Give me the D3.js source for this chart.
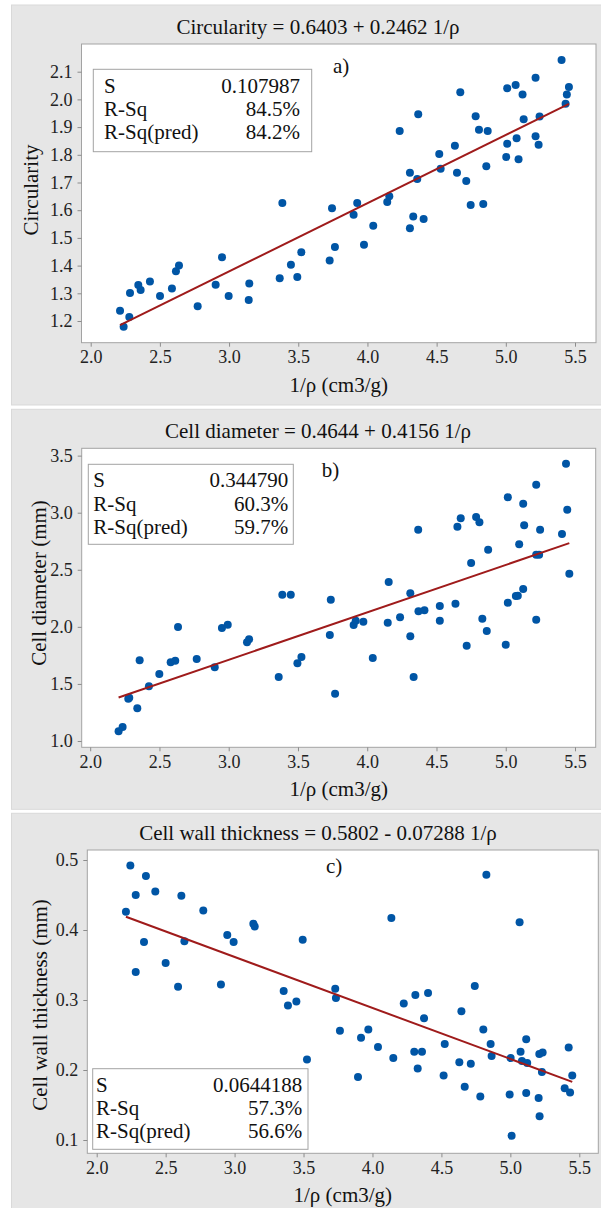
<!DOCTYPE html>
<html>
<head>
<meta charset="utf-8">
<script src="https://cdn.jsdelivr.net/npm/d3@7"></script>
<style>
  html, body { margin: 0; padding: 0; background: #fff; }
  svg { display: block; font-family: "Liberation Serif", "Times New Roman", serif; }
  svg text { font-family: "Liberation Serif", "Times New Roman", serif; }
</style>
</head>
<body>
<svg id="chart" width="601" height="1208"></svg>
<script>
// ---- data: specific volume 1/ρ (cm3/g) and measured responses ----
const invDensityA = [2.212,2.238,2.279,2.284,2.344,2.361,2.428,2.501,2.587,2.616,2.638,2.773,2.903,2.949,2.997,3.142,3.146,3.366,3.385,3.447,3.493,3.522,3.727,3.744,3.765,3.900,3.926,3.975,4.042,4.143,4.158,4.233,4.307,4.307,4.331,4.360,4.367,4.406,4.519,4.529,4.632,4.647,4.671,4.714,4.746,4.782,4.806,4.837,4.859,4.869,5.003,5.010,5.010,5.071,5.078,5.092,5.121,5.129,5.215,5.215,5.237,5.244,5.403,5.432,5.441,5.456];
const circularity = [1.237,1.179,1.214,1.301,1.330,1.312,1.343,1.290,1.317,1.380,1.400,1.253,1.331,1.430,1.290,1.276,1.335,1.354,1.626,1.403,1.359,1.448,1.418,1.607,1.467,1.584,1.626,1.475,1.544,1.630,1.650,1.886,1.535,1.735,1.577,1.713,1.946,1.568,1.803,1.750,1.833,1.735,2.026,1.705,1.619,1.939,1.890,1.622,1.759,1.886,1.792,2.040,1.840,2.052,1.860,1.784,2.018,1.928,2.078,1.867,1.836,1.938,2.142,1.984,2.018,2.045];

const invDensityB = [2.205,2.234,2.275,2.282,2.340,2.357,2.424,2.499,2.581,2.614,2.634,2.769,2.899,2.951,2.993,3.132,3.147,3.361,3.387,3.448,3.496,3.525,3.730,3.737,3.768,3.902,3.917,3.972,4.040,4.148,4.155,4.237,4.311,4.311,4.335,4.370,4.368,4.413,4.524,4.524,4.637,4.651,4.675,4.718,4.750,4.786,4.810,4.831,4.863,4.873,5.000,5.015,5.015,5.073,5.087,5.097,5.126,5.126,5.133,5.220,5.220,5.220,5.241,5.248,5.406,5.435,5.444,5.459];
const cellDiameter = [1.085,1.123,1.371,1.379,1.286,1.707,1.479,1.587,1.689,1.703,1.999,1.718,1.646,1.990,2.019,1.865,1.891,1.561,2.282,2.282,1.681,1.736,1.929,2.238,1.414,2.016,2.054,2.045,1.727,2.036,2.393,2.084,2.294,1.917,1.561,2.136,2.851,2.145,2.183,2.054,2.203,2.877,2.951,1.835,2.559,2.962,2.916,2.072,1.964,2.676,1.844,2.212,3.135,2.270,2.273,2.723,3.079,2.332,2.889,3.245,2.063,2.632,2.632,2.851,2.813,3.429,3.026,2.466];

const invDensityC = [2.212,2.244,2.283,2.283,2.343,2.357,2.425,2.500,2.590,2.614,2.636,2.773,2.901,2.947,2.993,3.136,3.146,3.356,3.387,3.448,3.494,3.525,3.730,3.735,3.764,3.895,3.917,3.970,4.040,4.137,4.151,4.227,4.303,4.311,4.328,4.359,4.374,4.403,4.516,4.524,4.630,4.645,4.669,4.713,4.742,4.782,4.804,4.826,4.857,4.864,4.995,5.002,5.009,5.067,5.074,5.084,5.115,5.115,5.122,5.205,5.210,5.212,5.234,5.229,5.394,5.423,5.433,5.449];
const wallThickness = [0.426,0.492,0.450,0.340,0.383,0.477,0.455,0.353,0.319,0.449,0.384,0.428,0.322,0.393,0.383,0.409,0.405,0.313,0.292,0.298,0.386,0.215,0.316,0.303,0.256,0.190,0.246,0.258,0.233,0.417,0.217,0.295,0.226,0.307,0.202,0.226,0.274,0.310,0.192,0.237,0.211,0.284,0.176,0.209,0.320,0.162,0.258,0.479,0.237,0.220,0.165,0.217,0.106,0.411,0.226,0.213,0.244,0.167,0.210,0.160,0.223,0.134,0.225,0.197,0.174,0.232,0.168,0.192];

// fitted regression coefficients [intercept, slope]
const fitA = [0.6403, 0.2462];
const fitB = [0.4644, 0.4156];
const fitC = [0.5802, -0.07288];

// model summary rows
const summaryLabels = ["S", "R-Sq", "R-Sq(pred)"];
const summaryA = ["0.107987", "84.5%", "84.2%"];
const summaryB = ["0.344790", "60.3%", "59.7%"];
const summaryC = ["0.0644188", "57.3%", "56.6%"];

// tick values
const xTicks = [2.0, 2.5, 3.0, 3.5, 4.0, 4.5, 5.0, 5.5];
const yTicksA = [1.2, 1.3, 1.4, 1.5, 1.6, 1.7, 1.8, 1.9, 2.0, 2.1];
const yTicksB = [1.0, 1.5, 2.0, 2.5, 3.0, 3.5];
const yTicksC = [0.1, 0.2, 0.3, 0.4, 0.5];

const xLabel = "1/\u03C1 (cm3/g)";

const SERIF = '"Liberation Serif", "Times New Roman", serif';

// ---- panel definitions ----
const panels = [
  {
    x: invDensityA, y: circularity, fit: fitA, summary: summaryA,
    name: "Circularity", yLabel: "Circularity", tag: "a)", yTicks: yTicksA,
    bg: [11.5, 5, 640, 400],
    plot: { l: 81.5, r: 596, t: 44, b: 342.7 },
    xMap: [90.7, 575], yDom: [1.2, 2.1], yMap: [321, 71.7],
    box: { l: 93.3, t: 69.3, r: 311.7, b: 151.7, tx: 104, vx: 300, y0: 92.7, dy: 23.3 },
    tagPos: [333, 73], yLabelX: 38, yLabelY: 190
  },
  {
    x: invDensityB, y: cellDiameter, fit: fitB, summary: summaryB,
    name: "Cell diameter", yLabel: "Cell diameter (mm)", tag: "b)", yTicks: yTicksB,
    bg: [11.5, 409.3, 640, 400],
    plot: { l: 81.7, r: 595.7, t: 448.3, b: 747.3 },
    xMap: [90.2, 575], yDom: [1.0, 3.0], yMap: [741, 512.7],
    box: { l: 88.3, t: 464.3, r: 293.3, b: 544.3, tx: 93.3, vx: 288.3, y0: 486.7, dy: 23.8 },
    tagPos: [321.7, 476.7], yLabelX: 46, yLabelY: 583
  },
  {
    x: invDensityC, y: wallThickness, fit: fitC, summary: summaryC,
    name: "Cell wall thickness", yLabel: "Cell wall thickness (mm)", tag: "c)", yTicks: yTicksC,
    bg: [11.5, 813.3, 640, 410],
    plot: { l: 87.3, r: 598.3, t: 850, b: 1153.3 },
    xMap: [96.7, 579.3], yDom: [0.5, 0.1], yMap: [860, 1140],
    box: { l: 92.7, t: 1068.7, r: 308, b: 1149.3, tx: 96, vx: 302.3, y0: 1091.7, dy: 23.3 },
    tagPos: [326, 873], yLabelX: 47, yLabelY: 1005
  }
];

const svg = d3.select("#chart");
const fmt1 = d3.format(".1f");

function equationText(name, fit) {
  const sign = fit[1] < 0 ? "-" : "+";
  return `${name} = ${fit[0]} ${sign} ${Math.abs(fit[1])} 1/\u03C1`;
}

panels.forEach(p => {
  const g = svg.append("g");

  // grey panel background
  g.append("rect")
    .attr("x", p.bg[0]).attr("y", p.bg[1])
    .attr("width", p.bg[2]).attr("height", p.bg[3])
    .attr("fill", "#e6e6e6").attr("stroke", "#d9d9d9").attr("stroke-width", 1);

  const xs = d3.scaleLinear().domain([2.0, 5.5]).range(p.xMap);
  const ys = d3.scaleLinear().domain(p.yDom).range(p.yMap);
  const W = p.plot.r - p.plot.l, H = p.plot.b - p.plot.t;

  // plotting region
  g.append("rect")
    .attr("x", p.plot.l).attr("y", p.plot.t)
    .attr("width", W).attr("height", H)
    .attr("fill", "#fff").attr("stroke", "#a3a3a3").attr("stroke-width", 1);

  // axes
  const xAxis = d3.axisBottom(xs).tickValues(xTicks).tickFormat(fmt1)
    .tickSizeOuter(0).tickSizeInner(4).tickPadding(4);
  const yAxis = d3.axisLeft(ys).tickValues(p.yTicks).tickFormat(fmt1)
    .tickSizeOuter(0).tickSizeInner(4).tickPadding(5);

  const gx = g.append("g").attr("transform", `translate(0,${p.plot.b})`).call(xAxis);
  const gy = g.append("g").attr("transform", `translate(${p.plot.l},0)`).call(yAxis);
  [gx, gy].forEach(a => {
    a.attr("font-family", SERIF).attr("font-size", 18);
    a.select(".domain").remove();
    a.selectAll(".tick line").attr("stroke", "#8c8c8c");
    a.selectAll(".tick text").attr("fill", "#222");
  });

  // title with fitted equation
  g.append("text")
    .attr("x", 318).attr("y", p.plot.t - 10.5)
    .attr("text-anchor", "middle")
    .attr("font-size", 21).attr("fill", "#111")
    .text(equationText(p.name, p.fit));

  // axis titles
  g.append("text")
    .attr("x", (p.plot.l + p.plot.r) / 2).attr("y", p.plot.b + 49)
    .attr("text-anchor", "middle")
    .attr("font-size", 21).attr("fill", "#111")
    .text(xLabel);

  g.append("text")
    .attr("transform", `translate(${p.yLabelX},${p.yLabelY}) rotate(-90)`)
    .attr("text-anchor", "middle")
    .attr("font-size", 21).attr("fill", "#111")
    .text(p.yLabel);

  // scatter points
  const pts = p.x.map((v, i) => [v, p.y[i]]);
  g.append("g").selectAll("circle")
    .data(pts).join("circle")
    .attr("cx", d => xs(d[0])).attr("cy", d => ys(d[1]))
    .attr("r", 4).attr("fill", "#0055a5");

  // fitted line over the observed range
  const xMin = d3.min(p.x), xMax = d3.max(p.x);
  const fitPts = [xMin, xMax].map(v => [v, p.fit[0] + p.fit[1] * v]);
  g.append("path")
    .attr("d", d3.line().x(d => xs(d[0])).y(d => ys(d[1]))(fitPts))
    .attr("fill", "none").attr("stroke", "#9f1b1b").attr("stroke-width", 2);

  // panel tag
  g.append("text")
    .attr("x", p.tagPos[0]).attr("y", p.tagPos[1])
    .attr("font-size", 21).attr("fill", "#111")
    .text(p.tag);

  // model summary box
  const bx = p.box;
  g.append("rect")
    .attr("x", bx.l).attr("y", bx.t)
    .attr("width", bx.r - bx.l).attr("height", bx.b - bx.t)
    .attr("fill", "#fff").attr("stroke", "#a3a3a3").attr("stroke-width", 1);
  summaryLabels.forEach((lab, i) => {
    g.append("text")
      .attr("x", bx.tx).attr("y", bx.y0 + i * bx.dy)
      .attr("font-size", 21).attr("fill", "#111")
      .text(lab);
    g.append("text")
      .attr("x", bx.vx).attr("y", bx.y0 + i * bx.dy)
      .attr("text-anchor", "end")
      .attr("font-size", 21).attr("fill", "#111")
      .text(p.summary[i]);
  });
});
</script>
</body>
</html>
